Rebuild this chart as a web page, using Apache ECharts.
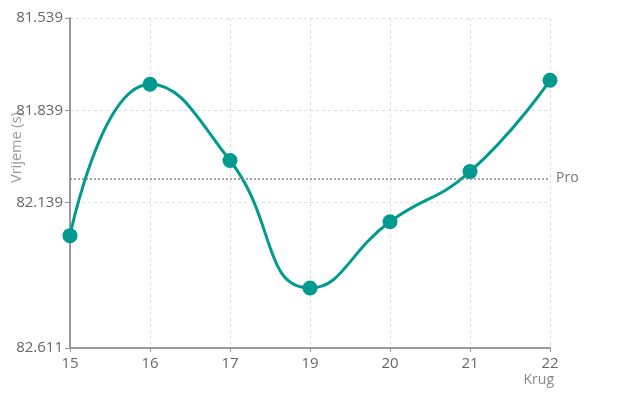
<!DOCTYPE html>
<html><head><meta charset="utf-8">
<script src="https://cdn.jsdelivr.net/npm/echarts@6/dist/echarts.min.js"></script>
<style>html,body{margin:0;padding:0;background:#fff}#c{width:623px;height:407px}</style>
</head><body><div id="c"></div>
<script>
const laps = ['15', '16', '17', '19', '20', '21', '22'];
const lapTimes = [82.246, 81.754, 82.002, 82.416, 82.201, 82.038, 81.741];
const yTicks = [81.539, 81.839, 82.139, 82.611];
const yMin = 81.539, yMax = 82.611;
const font = '"Open Sans", sans-serif';

const chart = echarts.init(document.getElementById('c'));
chart.setOption({
  animation: false,
  grid: { left: 70, right: 73, top: 18, bottom: 59, outerBoundsMode: 'none', containLabel: false },
  xAxis: {
    type: 'category', data: laps, boundaryGap: false,
    name: 'Krug', nameLocation: 'end', nameGap: 4, nameMoveOverlap: false,
    nameTextStyle: { color: '#888', fontSize: 14, fontFamily: font, align: 'right', verticalAlign: 'top', padding: [25, 0, 0, 0] },
    axisLine: { lineStyle: { color: '#999', width: 2 } },
    axisTick: { show: true, lineStyle: { color: '#999' }, length: 4 },
    axisLabel: { color: '#666', fontSize: 15, fontFamily: font, margin: 8 },
    splitLine: { show: true, lineStyle: { color: '#ddd', type: [3, 3] } }
  },
  yAxis: {
    type: 'value', inverse: true, min: yMin, max: yMax,
    name: 'Vrijeme (s)', nameLocation: 'middle', nameGap: 46, nameMoveOverlap: false,
    nameTextStyle: { color: '#999', fontSize: 14.5, fontFamily: font, align: 'left' },
    axisLine: { show: true, lineStyle: { color: '#999', width: 2 } },
    axisTick: { show: true, length: 5, lineStyle: { color: '#999' }, customValues: yTicks },
    axisLabel: { color: '#666', fontSize: 15, fontFamily: font, margin: 7, customValues: yTicks, formatter: v => v.toFixed(3) },
    splitLine: { show: true, lineStyle: { color: '#ddd', type: [3, 3] } }
  },
  series: [{
    type: 'line', data: lapTimes, smooth: true,
    symbol: 'circle', symbolSize: 15,
    lineStyle: { color: '#009b8e', width: 3 },
    itemStyle: { color: '#009b8e' },
    markLine: {
      silent: true, symbol: 'none',
      data: [{ type: 'average', name: 'Pro' }],
      lineStyle: { color: '#888', type: [2, 2], width: 1.5 },
      label: { formatter: 'Pro', color: '#777', fontSize: 14, fontFamily: font, distance: 6 }
    }
  }]
});
</script></body></html>
